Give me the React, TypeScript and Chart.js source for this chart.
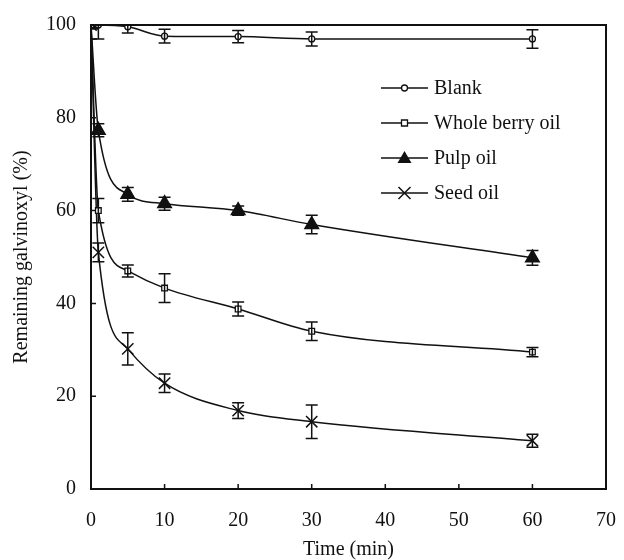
import React, { useEffect, useRef } from 'react';
import { Chart, registerables } from 'chart.js';

Chart.register(...registerables);

const times = [0, 1, 5, 10, 20, 30, 60];
const blank = [100, 100, 99.6, 97.6, 97.5, 97, 97];
const blankErr = [0, 3, 1.3, 1.5, 1.3, 1.5, 2];
const wholeBerry = [100, 60, 47, 43.3, 38.8, 34, 29.5];
const wholeBerryErr = [3, 2.6, 1.3, 3.1, 1.5, 2, 1];
const pulp = [100, 77.3, 63.5, 61.5, 60, 57, 49.8];
const pulpErr = [0, 1.4, 1.5, 1.4, 1, 2, 1.6];
const seed = [100, 51, 30.2, 22.8, 16.9, 14.5, 10.4];
const seedErr = [0, 2, 3.5, 2, 1.7, 3.6, 1.4];

const seriesNames = ['Blank', 'Whole berry oil', 'Pulp oil', 'Seed oil'];
const yTicks = [0, 20, 40, 60, 80, 100];
const xTicks = [0, 10, 20, 30, 40, 50, 60, 70];

const FONT = '"Liberation Serif", "Times New Roman", serif';
const INK = '#111';

function drawMarker(ctx: CanvasRenderingContext2D, kind: string, x: number, y: number) {
  ctx.save();
  ctx.strokeStyle = INK;
  ctx.fillStyle = '#fff';
  ctx.lineWidth = 1.3;
  if (kind === 'circle') {
    ctx.beginPath();
    ctx.arc(x, y, 3, 0, Math.PI * 2);
    ctx.fill();
    ctx.stroke();
  } else if (kind === 'rect') {
    ctx.beginPath();
    ctx.rect(x - 3, y - 3, 6, 6);
    ctx.fill();
    ctx.stroke();
  } else if (kind === 'triangle') {
    ctx.fillStyle = INK;
    ctx.beginPath();
    ctx.moveTo(x, y - 7);
    ctx.lineTo(x + 7, y + 5);
    ctx.lineTo(x - 7, y + 5);
    ctx.closePath();
    ctx.fill();
  } else if (kind === 'crossRot') {
    ctx.lineWidth = 1.5;
    ctx.beginPath();
    ctx.moveTo(x - 6, y - 6);
    ctx.lineTo(x + 6, y + 6);
    ctx.moveTo(x + 6, y - 6);
    ctx.lineTo(x - 6, y + 6);
    ctx.stroke();
  }
  ctx.restore();
}

const markerKinds = ['circle', 'rect', 'triangle', 'crossRot'];
const errArrays = [blankErr, wholeBerryErr, pulpErr, seedErr];
const valArrays = [blank, wholeBerry, pulp, seed];

const decorPlugin = {
  id: 'decor',
  afterDatasetsDraw(chart: any) {
    const { ctx, chartArea } = chart;
    const xs = chart.scales.x;
    const ys = chart.scales.y;
    ctx.save();
    ctx.beginPath();
    ctx.rect(chartArea.left, chartArea.top - 1, chartArea.right - chartArea.left, chartArea.bottom - chartArea.top + 1);
    ctx.clip();
    ctx.strokeStyle = INK;
    ctx.lineWidth = 1.5;
    valArrays.forEach((vals, di) => {
      const errs = errArrays[di];
      vals.forEach((v, i) => {
        const e = errs[i];
        if (!e) return;
        const x = xs.getPixelForValue(times[i]);
        const y1 = ys.getPixelForValue(v + e);
        const y2 = ys.getPixelForValue(v - e);
        ctx.beginPath();
        ctx.moveTo(x, y1);
        ctx.lineTo(x, y2);
        ctx.moveTo(x - 6, y1);
        ctx.lineTo(x + 6, y1);
        ctx.moveTo(x - 6, y2);
        ctx.lineTo(x + 6, y2);
        ctx.stroke();
      });
    });
    ctx.restore();

    // frame and inward ticks
    ctx.save();
    ctx.strokeStyle = INK;
    ctx.lineWidth = 2;
    ctx.strokeRect(chartArea.left, chartArea.top, chartArea.right - chartArea.left, chartArea.bottom - chartArea.top);
    ctx.lineWidth = 1.5;
    ctx.beginPath();
    yTicks.forEach((t) => {
      const y = ys.getPixelForValue(t);
      ctx.moveTo(chartArea.left, y);
      ctx.lineTo(chartArea.left + 5, y);
    });
    xTicks.forEach((t) => {
      const x = xs.getPixelForValue(t);
      ctx.moveTo(x, chartArea.bottom);
      ctx.lineTo(x, chartArea.bottom - 5);
    });
    ctx.stroke();
    ctx.restore();

    // legend
    ctx.save();
    ctx.font = '20px ' + FONT;
    ctx.fillStyle = INK;
    ctx.textBaseline = 'middle';
    const legendYs = [88, 123, 158, 193];
    seriesNames.forEach((name, i) => {
      const y = legendYs[i];
      ctx.strokeStyle = INK;
      ctx.lineWidth = 1.5;
      ctx.beginPath();
      ctx.moveTo(381, y);
      ctx.lineTo(428, y);
      ctx.stroke();
      drawMarker(ctx, markerKinds[i], 404.5, y);
      ctx.fillStyle = INK;
      ctx.fillText(name, 434, y + 1);
    });
    ctx.restore();
  },
};

export default function App() {
  const ref = useRef<HTMLCanvasElement | null>(null);
  useEffect(() => {
    if (!ref.current) return;
    const mk = (label: string, data: number[], style: string, radius: number, fill: string) => ({
      label,
      data: times.map((t, i) => ({ x: t, y: data[i] })),
      borderColor: INK,
      borderWidth: 1.5,
      backgroundColor: fill,
      pointStyle: style,
      pointRadius: radius,
      pointBorderColor: INK,
      pointBackgroundColor: fill,
      pointBorderWidth: style === 'crossRot' ? 1.5 : 1.3,
      cubicInterpolationMode: 'monotone' as const,
      fill: false,
    });
    const chart = new Chart(ref.current, {
      type: 'line',
      data: {
        datasets: [
          mk(seriesNames[0], blank, 'circle', 3, '#fff'),
          mk(seriesNames[1], wholeBerry, 'rect', 4, '#fff'),
          mk(seriesNames[2], pulp, 'triangle', 8, INK),
          mk(seriesNames[3], seed, 'crossRot', 8, INK),
        ],
      },
      options: {
        animation: false,
        responsive: false,
        maintainAspectRatio: false,
        layout: { padding: { left: 0, right: 18, top: 25, bottom: 0 } },
        plugins: { legend: { display: false }, tooltip: { enabled: false } },
        scales: {
          x: {
            type: 'linear',
            min: 0,
            max: 70,
            afterFit: (s: any) => { s.height = 71; s.paddingLeft = 0; s.paddingRight = 0; },
            afterBuildTicks: (s: any) => { s.ticks = xTicks.map((v) => ({ value: v })); },
            grid: { display: false, drawTicks: false },
            border: { display: false },
            ticks: { padding: 20, color: INK, font: { family: FONT, size: 20 }, maxRotation: 0 },
            title: { display: true, text: 'Time (min)', color: INK, font: { family: FONT, size: 20, lineHeight: 1 }, padding: { top: 0, bottom: 0 } },
          },
          y: {
            type: 'linear',
            min: 0,
            max: 100,
            afterFit: (s: any) => { s.width = 91; s.paddingTop = 0; s.paddingBottom = 0; },
            afterBuildTicks: (s: any) => { s.ticks = yTicks.map((v) => ({ value: v })); },
            grid: { display: false, drawTicks: false },
            border: { display: false },
            ticks: { padding: 15, color: INK, font: { family: FONT, size: 20 } },
            title: { display: true, text: 'Remaining galvinoxyl (%)', color: INK, font: { family: FONT, size: 20, lineHeight: 1 }, padding: { top: 12, bottom: 0 } },
          },
        },
      },
      plugins: [decorPlugin],
    });
    return () => chart.destroy();
  }, []);
  return (
    <div style={{ position: 'fixed', left: 0, top: 0, width: 624, height: 560, background: '#fff' }}>
      <canvas ref={ref} width={624} height={560} style={{ width: 624, height: 560, display: 'block' }} />
    </div>
  );
}
